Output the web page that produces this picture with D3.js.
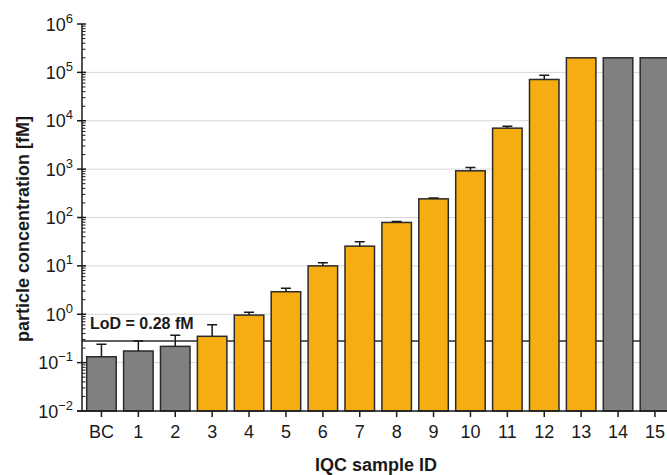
<!DOCTYPE html>
<html>
<head>
<meta charset="utf-8">
<script src="https://cdn.jsdelivr.net/npm/d3@7"></script>
<style>
    body { margin: 0; background: #fff; }
    svg { display: block; font-family: "Liberation Sans", Arial, sans-serif; }
</style>
</head>
<body>
<svg id="mainsvg" width="667" height="475"></svg>
<script>
// sample ids, measured concentration [fM] and upper error value
let samples = ["BC", "1", "2", "3", "4", "5", "6", "7", "8", "9", "10", "11", "12", "13", "14", "15"];
let concentration = [0.132, 0.174, 0.217, 0.35, 0.96, 2.92, 10.0, 25.6, 79, 243, 922, 7030, 71300, 2e5, 2e5, 2e5];
let errorTop = [0.239, 0.279, 0.37, 0.61, 1.1, 3.43, 11.6, 31.5, 82.5, 253, 1085, 7730, 87500, null, null, null];
let aboveLoD = [false, false, false, true, true, true, true, true, true, true, true, true, true, true, false, false];
let yTickExp = [-2, -1, 0, 1, 2, 3, 4, 5, 6];
let lod = 0.28;

let svg = d3.select("#mainsvg");
let plotLeft = 82, plotBottom = 411, plotTop = 24;

let x = d3.scaleBand().domain(samples).range([83, 83 + 16 * 36.9]).paddingInner(0.2).paddingOuter(0.1);
let y = d3.scaleLog().domain([1e-2, 1e6]).range([plotBottom, plotTop]);

let gridg = svg.append("g");
let barg = svg.append("g");
let axisg = svg.append("g");

// grid lines at decades
gridg.selectAll(".grid").data(yTickExp.filter(e => e > -2 && e < 6)).enter()
    .append("line")
    .attr("x1", plotLeft).attr("x2", 667)
    .attr("y1", d => y(Math.pow(10, d))).attr("y2", d => y(Math.pow(10, d)))
    .attr("stroke", "#d6d6d6").attr("stroke-width", 1);

// LoD line
gridg.append("line")
    .attr("x1", plotLeft).attr("x2", 667)
    .attr("y1", y(lod)).attr("y2", y(lod))
    .attr("stroke", "#2b2b2b").attr("stroke-width", 1.5);
gridg.append("text")
    .attr("x", 90).attr("y", 329)
    .attr("font-size", 16).attr("font-weight", "bold").attr("fill", "#1a1a1a")
    .text("LoD = " + lod + " fM");

// bars
let data = samples.map((s, i) => ({id: s, v: concentration[i], err: errorTop[i], hi: aboveLoD[i]}));
barg.selectAll(".bar").data(data).enter()
    .append("rect")
    .attr("x", d => x(d.id))
    .attr("width", x.bandwidth())
    .attr("y", d => y(d.v))
    .attr("height", d => plotBottom - y(d.v))
    .attr("fill", d => d.hi ? "#f5ad12" : "#808080")
    .attr("stroke", "#2b2b2b").attr("stroke-width", 1.5);

// error bars
let errs = data.filter(d => d.err !== null);
barg.selectAll(".err").data(errs).enter()
    .append("path")
    .attr("d", d => {
        let cx = x(d.id) + x.bandwidth() / 2;
        return "M" + cx + "," + y(d.v) + "V" + y(d.err) + "M" + (cx - 5) + "," + y(d.err) + "H" + (cx + 5);
    })
    .attr("fill", "none").attr("stroke", "#1a1a1a").attr("stroke-width", 1.5);

// y axis
axisg.append("line").attr("x1", plotLeft).attr("x2", plotLeft).attr("y1", plotTop).attr("y2", plotBottom)
    .attr("stroke", "#1a1a1a").attr("stroke-width", 1.5);
let minor = [];
for (let e = -2; e < 6; e++) {
    for (let m = 2; m <= 9; m++) minor.push(m * Math.pow(10, e));
}
axisg.selectAll(".minor").data(minor).enter()
    .append("line")
    .attr("x1", plotLeft).attr("x2", plotLeft + 3.5)
    .attr("y1", d => y(d)).attr("y2", d => y(d))
    .attr("stroke", "#1a1a1a").attr("stroke-width", 1);
axisg.selectAll(".major").data(yTickExp).enter()
    .append("line")
    .attr("x1", plotLeft - 5).attr("x2", plotLeft + 4)
    .attr("y1", d => y(Math.pow(10, d))).attr("y2", d => y(Math.pow(10, d)))
    .attr("stroke", "#1a1a1a").attr("stroke-width", 1.5);
let ylab = axisg.selectAll(".ylab").data(yTickExp).enter()
    .append("text")
    .attr("x", 73)
    .attr("y", d => y(Math.pow(10, d)) + 6.5)
    .attr("text-anchor", "end")
    .attr("font-size", 18).attr("fill", "#1a1a1a");
ylab.append("tspan").text("10");
ylab.append("tspan").attr("dy", -8).attr("font-size", 13)
    .text(d => d < 0 ? "\u2212" + (-d) : "" + d);

// x axis
axisg.append("line").attr("x1", plotLeft - 5).attr("x2", 667).attr("y1", plotBottom).attr("y2", plotBottom)
    .attr("stroke", "#1a1a1a").attr("stroke-width", 1.5);
axisg.selectAll(".xtick").data(samples).enter()
    .append("line")
    .attr("x1", d => x(d) + x.bandwidth() / 2).attr("x2", d => x(d) + x.bandwidth() / 2)
    .attr("y1", plotBottom).attr("y2", plotBottom + 6)
    .attr("stroke", "#1a1a1a").attr("stroke-width", 1.5);
axisg.selectAll(".xlab").data(samples).enter()
    .append("text")
    .attr("x", d => x(d) + x.bandwidth() / 2)
    .attr("y", 438)
    .attr("text-anchor", "middle")
    .attr("font-size", 18).attr("fill", "#1a1a1a")
    .text(d => d);

// titles
svg.append("text")
    .attr("x", 376).attr("y", 471)
    .attr("text-anchor", "middle")
    .attr("font-size", 18).attr("font-weight", "bold").attr("fill", "#1a1a1a")
    .text("IQC sample ID");
svg.append("text")
    .attr("transform", "translate(29,229) rotate(-90)")
    .attr("text-anchor", "middle")
    .attr("font-size", 18).attr("font-weight", "bold").attr("fill", "#1a1a1a")
    .text("particle concentration [fM]");
</script>
</body>
</html>
